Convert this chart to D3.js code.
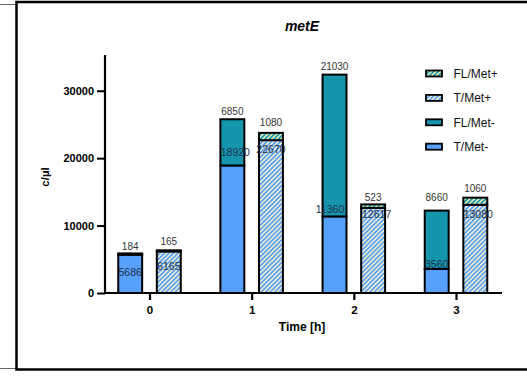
<!DOCTYPE html>
<html>
<head>
<meta charset="utf-8">
<script src="https://cdn.jsdelivr.net/npm/d3@7"></script>
<style>
  body { margin: 0; background: #fff; }
  svg { display: block; font-family: Arial, "Liberation Sans", sans-serif; }
</style>
</head>
<body>
<svg id="chart" width="527" height="381"></svg>
<script>
// data
const times = ['0', '1', '2', '3'];
const tMetMinus = [5686, 18920, 11360, 3560];
const flMetMinus = [184, 6850, 21030, 8660];
const tMetPlus = [6165, 22670, 12617, 13080];
const flMetPlus = [165, 1080, 523, 1060];
const yTicks = [0, 10000, 20000, 30000];

// hand placement of the number labels (px), like the original
const innerNudgeY = [[18, 14.5], [-13, 9], [-7, 6.5], [-5, 9.5]];
const innerNudgeX = [[0, 0], [3, 0], [-4.5, 3.5], [0, 3]];
const topNudgeY = [[-6.5, -8.5], [-8, -10], [-8.5, -7], [-13, -9]];

const svg = d3.select('#chart');

// outer frame (box cut off on the right, plus a neighbour box on the left)
svg.append('path')
  .attr('d', 'M0,4.5H16.5M0,368.5H16.5')
  .attr('stroke', '#666').attr('stroke-width', 1.2).attr('fill', 'none');
svg.append('path')
  .attr('d', 'M527,2H16.5V369.5H527')
  .attr('stroke', '#000').attr('stroke-width', 2.5).attr('fill', 'none');

// hatch patterns
const defs = svg.append('defs');
function hatch(id, stripe, bg) {
  const p = defs.append('pattern')
    .attr('id', id)
    .attr('patternUnits', 'userSpaceOnUse')
    .attr('width', 3.2).attr('height', 3.2)
    .attr('patternTransform', 'rotate(45)');
  p.append('rect').attr('width', 3.2).attr('height', 3.2).attr('fill', bg);
  p.append('rect').attr('width', 1.7).attr('height', 3.2).attr('fill', stripe);
}
hatch('hT', '#5b9ff2', '#f2f1d4');
hatch('hFL', '#1898ac', '#eef0b8');

const colors = {
  tMinus: '#57a0fb',
  flMinus: '#1596ad',
  tPlus: 'url(#hT)',
  flPlus: 'url(#hFL)'
};

const y = d3.scaleLinear().domain([0, 35300]).range([293, 55]);
const x = d3.scalePoint().domain(times).range([149.5, 456]);
const sub = d3.scaleBand().domain(['minus', 'plus'])
  .range([-38.6, 38.6]).paddingInner(0.38).paddingOuter(0.19);

// title
svg.append('text')
  .attr('x', 302).attr('y', 31)
  .attr('text-anchor', 'middle')
  .style('font-size', '14px').style('font-weight', 'bold').style('font-style', 'italic')
  .text('metE');

// bars
const rows = times.map((t, i) => ({
  t, i,
  stacks: [
    { key: 'minus', base: tMetMinus[i], top: flMetMinus[i], cb: colors.tMinus, ct: colors.flMinus },
    { key: 'plus', base: tMetPlus[i], top: flMetPlus[i], cb: colors.tPlus, ct: colors.flPlus }
  ]
}));

const g = svg.append('g');
rows.forEach(r => {
  r.stacks.forEach((s, j) => {
    const x0 = x(r.t) + sub(s.key);
    const bw = sub.bandwidth();
    g.append('rect')
      .attr('x', x0).attr('width', bw)
      .attr('y', y(s.base)).attr('height', y(0) - y(s.base))
      .attr('fill', s.cb).attr('stroke', '#000').attr('stroke-width', 2);
    g.append('rect')
      .attr('x', x0).attr('width', bw)
      .attr('y', y(s.base + s.top)).attr('height', y(s.base) - y(s.base + s.top))
      .attr('fill', s.ct).attr('stroke', '#000').attr('stroke-width', 2);

    g.append('text')
      .attr('x', x0 + bw / 2 + innerNudgeX[r.i][j])
      .attr('y', y(s.base) + innerNudgeY[r.i][j])
      .attr('dy', '0.35em')
      .attr('text-anchor', 'middle')
      .style('font-size', '10.5px').style('fill', '#22304a')
      .text(s.base);
    g.append('text')
      .attr('x', x0 + bw / 2)
      .attr('y', y(s.base + s.top) + topNudgeY[r.i][j])
      .attr('dy', '0.35em')
      .attr('text-anchor', 'middle')
      .style('font-size', '10px').style('fill', '#333')
      .text(s.top);
  });
});

// y axis
const yAxis = svg.append('g')
  .attr('transform', 'translate(105,0)')
  .call(d3.axisLeft(y).tickValues(yTicks).tickSize(8).tickPadding(3).tickFormat(d3.format('d')));
yAxis.select('.domain').remove();
yAxis.append('line')
  .attr('x1', 0).attr('x2', 0).attr('y1', 55).attr('y2', 294)
  .attr('stroke', '#000').attr('stroke-width', 2.2);
yAxis.selectAll('.tick line').attr('stroke-width', 2);
yAxis.selectAll('.tick text')
  .style('font-size', '11px').style('font-weight', 'bold')
  .style('font-family', 'Arial, "Liberation Sans", sans-serif').attr('fill', '#000');

// x axis
const xAxis = svg.append('g')
  .attr('transform', 'translate(0,293)')
  .call(d3.axisBottom(x).tickSize(7).tickPadding(6));
xAxis.select('.domain').remove();
xAxis.append('line')
  .attr('x1', 104).attr('x2', 502).attr('y1', 0).attr('y2', 0)
  .attr('stroke', '#000').attr('stroke-width', 2.2);
xAxis.selectAll('.tick line').attr('stroke-width', 2.2);
xAxis.selectAll('.tick text')
  .style('font-size', '11.5px').style('font-weight', 'bold')
  .style('font-family', 'Arial, "Liberation Sans", sans-serif').attr('fill', '#000');

// axis titles
svg.append('text')
  .attr('x', 302).attr('y', 331)
  .attr('text-anchor', 'middle')
  .style('font-size', '12px').style('font-weight', 'bold')
  .text('Time [h]');
svg.append('text')
  .attr('transform', 'translate(49,177) rotate(-90)')
  .attr('text-anchor', 'middle')
  .style('font-size', '11.5px').style('font-weight', 'bold')
  .text('c/µl');

// legend
const legendItems = [
  { label: 'FL/Met+', fill: colors.flPlus },
  { label: 'T/Met+', fill: colors.tPlus },
  { label: 'FL/Met-', fill: colors.flMinus },
  { label: 'T/Met-', fill: colors.tMinus }
];
const legend = svg.append('g').attr('transform', 'translate(426,73.5)');
legend.selectAll('g')
  .data(legendItems)
  .enter()
  .append('g')
  .attr('transform', (d, i) => `translate(0,${i * 24.4})`)
  .each(function (d) {
    const s = d3.select(this);
    s.append('rect')
      .attr('x', 0).attr('y', -3).attr('width', 16).attr('height', 6)
      .attr('fill', d.fill).attr('stroke', '#000').attr('stroke-width', 1.8);
    s.append('text')
      .attr('x', 27.5).attr('y', 0).attr('dy', '0.35em')
      .style('font-size', '12px').style('fill', '#111')
      .text(d.label);
  });
</script>
</body>
</html>
